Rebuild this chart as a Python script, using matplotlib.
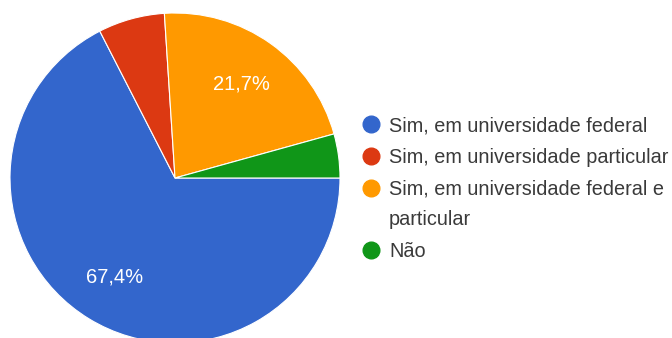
import matplotlib.pyplot as plt

plt.rcParams['font.family'] = ['Liberation Sans', 'DejaVu Sans']

categorias = ['Sim, em universidade federal',
              'Sim, em universidade particular',
              'Sim, em universidade federal e\nparticular',
              'Não']
percentuais = [67.4, 6.5, 21.7, 4.3]
cores = ['#3366cc', '#dc3912', '#ff9900', '#109618']

W, H = 672, 338
fig = plt.figure(figsize=(W / 100, H / 100), dpi=100)

# pizza: centro (175, 178) px, raio 165 px
cx, cy, r = 175, 178, 165
ax = fig.add_axes([(cx - r) / W, (H - cy - r) / H, 2 * r / W, 2 * r / H])
total = sum(percentuais)


def rotulo(pct):
    v = pct * total / 100
    return ('%.1f%%' % v).replace('.', ',') if v > 10 else ''


ax.pie(percentuais, colors=cores, startangle=0, counterclock=False,
       autopct=rotulo, pctdistance=0.70,
       wedgeprops=dict(edgecolor='white', linewidth=0.8),
       textprops=dict(color='white', fontsize=14.5))
ax.set_xlim(-1, 1)
ax.set_ylim(-1, 1)
ax.set_aspect('equal')

# legenda desenhada à mão, no estilo do Google Forms
lx, tx = 371, 389
y = 124
for cat, cor in zip(categorias, cores):
    fig.add_artist(plt.Line2D([lx / W], [1 - y / H], marker='o', markersize=12,
                              color=cor, linestyle='none'))
    for linha in cat.split('\n'):
        fig.text(tx / W, 1 - (y + 7) / H, linha, fontsize=14.3,
                 color='#3a3a3a', ha='left', va='baseline')
        y += 30
    y += 2

fig.savefig('out.png', dpi=100)
